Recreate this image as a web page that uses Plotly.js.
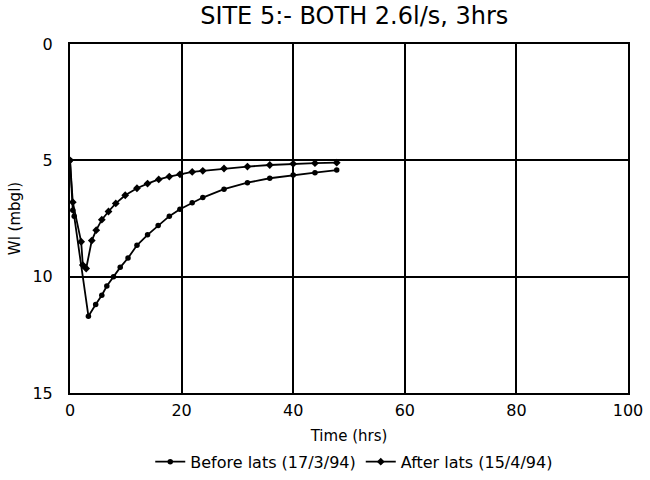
<!DOCTYPE html>
<html>
<head>
<meta charset="utf-8">
<script src="https://cdn.plot.ly/plotly-3.0.1.min.js"></script>
<style>html,body{margin:0;padding:0;background:#fff;}#chart{width:650px;height:480px;}</style>
</head>
<body>
<div id="chart"></div>
<script>
var beforeTime = [0, 0.5, 0.75, 3.3, 4.6, 5.7, 6.6, 7.8, 9, 10.4, 12, 13.9, 15.8, 17.8, 19.7, 21.9, 23.8, 27.6, 31.8, 35.8, 40, 43.9, 47.8];
var beforeLevel = [5.0, 7.15, 7.4, 11.7, 11.2, 10.8, 10.4, 10.0, 9.6, 9.2, 8.65, 8.2, 7.8, 7.4, 7.1, 6.82, 6.6, 6.24, 5.96, 5.77, 5.63, 5.53, 5.42];
var afterTime = [0, 0.5, 2, 2.3, 2.9, 3.9, 4.7, 5.7, 6.9, 8.2, 9.9, 12, 13.9, 15.9, 17.8, 19.7, 21.9, 23.8, 27.6, 31.8, 35.8, 40, 43.9, 47.8];
var afterLevel = [5.0, 6.8, 8.5, 9.5, 9.65, 8.45, 8.0, 7.55, 7.2, 6.85, 6.5, 6.2, 6.0, 5.82, 5.7, 5.6, 5.5, 5.45, 5.35, 5.27, 5.2, 5.15, 5.12, 5.1];
var seriesNames = ["Before lats (17/3/94)", "After lats (15/4/94)"];
var xTicks = [0, 20, 40, 60, 80, 100];
var yTicks = [0, 5, 10, 15];

var fontFam = "DejaVu Sans, Liberation Sans, sans-serif";
var traces = [
  {x: beforeTime, y: beforeLevel, name: seriesNames[0], mode: "lines+markers",
   line: {color: "#000", width: 1.8}, marker: {symbol: "circle", size: 5.5, color: "#000"}},
  {x: afterTime, y: afterLevel, name: seriesNames[1], mode: "lines+markers",
   line: {color: "#000", width: 1.8}, marker: {symbol: "diamond", size: 6, color: "#000"}}
];
var layout = {
  width: 650, height: 480,
  margin: {l: 70, r: 22, t: 44, b: 87},
  paper_bgcolor: "#fff", plot_bgcolor: "#fff",
  font: {family: fontFam, color: "#000", size: 14},
  title: {text: "SITE 5:- BOTH 2.6l/s, 3hrs", font: {size: 24, family: fontFam, color: "#000"},
          x: 0.545, xanchor: "center", y: 0.968, yanchor: "middle"},
  xaxis: {range: [0, 100], tickvals: xTicks, ticktext: xTicks.map(String), automargin: false,
          showgrid: true, gridcolor: "#000", gridwidth: 2, zeroline: false,
          showline: true, linecolor: "#000", linewidth: 2, mirror: true,
          ticks: "", tickfont: {size: 16}, ticklabelstandoff: 2,
          title: {text: "Time (hrs)", font: {size: 15}, standoff: 14}},
  yaxis: {range: [15, 0], tickvals: yTicks, ticktext: yTicks.map(String), automargin: false,
          showgrid: true, gridcolor: "#000", gridwidth: 2, zeroline: false,
          showline: true, linecolor: "#000", linewidth: 2, mirror: true,
          ticks: "", tickfont: {size: 16}, ticklabelstandoff: 12,
          title: {text: "Wl (mbgl)", font: {size: 15}, standoff: 8}},
  showlegend: true,
  legend: {orientation: "h", xref: "container", yref: "container", x: 0.545, xanchor: "center",
           y: 0.038, yanchor: "middle",
           font: {size: 16}, itemwidth: 30, tracegroupgap: 0, bgcolor: "rgba(0,0,0,0)"}
};
Plotly.newPlot("chart", traces, layout, {displayModeBar: false, staticPlot: true});
</script>
</body>
</html>
